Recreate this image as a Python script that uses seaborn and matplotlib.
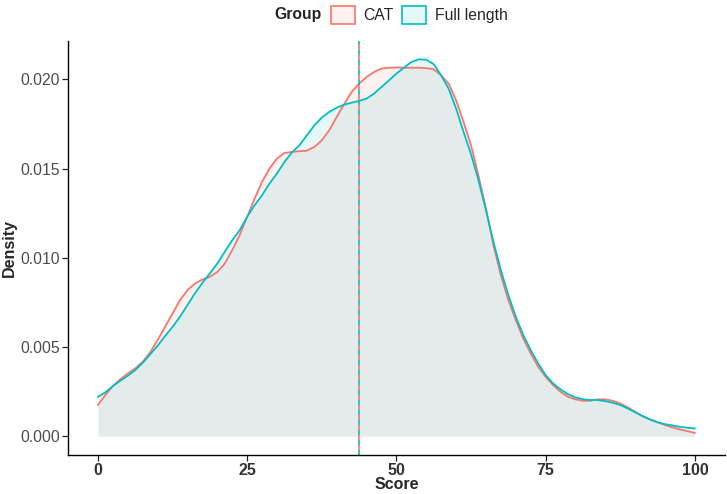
import pandas as pd
import seaborn as sns
import matplotlib.pyplot as plt
from matplotlib.patches import Patch
from matplotlib.colors import to_rgba
from matplotlib import font_manager

# density values, every 1.25 score points
score = [i * 1.25 for i in range(81)]
cat_density = [
    0.00174, 0.0023, 0.0028, 0.00318, 0.00351, 0.00379, 0.00416, 0.00469,
    0.00538, 0.00612, 0.00687, 0.00762, 0.00818, 0.00855, 0.00878, 0.00893,
    0.0092, 0.00967, 0.01042, 0.01126, 0.01229, 0.01331, 0.01425, 0.015,
    0.01556, 0.01587, 0.01593, 0.01597, 0.0160, 0.01621, 0.01658, 0.01714,
    0.01789, 0.0186, 0.01929, 0.01976, 0.02013, 0.02041, 0.0206, 0.02065,
    0.02067, 0.02065, 0.02065, 0.02065, 0.02063, 0.02056, 0.02022, 0.01976,
    0.01882, 0.01761, 0.0163, 0.0146, 0.01276, 0.0107, 0.00902, 0.00762,
    0.0065, 0.00547, 0.00463, 0.00388, 0.00332, 0.00286, 0.00248, 0.0022,
    0.00206, 0.00198, 0.00198, 0.00206, 0.00206, 0.00198, 0.00183, 0.00161,
    0.00136, 0.00112, 0.00093, 0.00077, 0.00062, 0.00049, 0.00037, 0.00028,
    0.00018]
full_density = [
    0.0022, 0.00245, 0.0028, 0.0031, 0.00338, 0.0037, 0.0041, 0.00458,
    0.00506, 0.0056, 0.00612, 0.00669, 0.00734, 0.008, 0.00859, 0.00912,
    0.00967, 0.01033, 0.01098, 0.01154, 0.01229, 0.01294, 0.0135, 0.01416,
    0.01472, 0.01537, 0.0159, 0.0163, 0.01686, 0.01742, 0.01785, 0.01817,
    0.01841, 0.01858, 0.01869, 0.01879, 0.01892, 0.0192, 0.01957, 0.01994,
    0.02032, 0.02065, 0.02097, 0.02112, 0.0211, 0.02085, 0.02022, 0.01948,
    0.01836, 0.01705, 0.0158, 0.01434, 0.01266, 0.01089, 0.0093, 0.0079,
    0.00669, 0.00566, 0.00482, 0.00407, 0.00342, 0.00295, 0.00262, 0.00235,
    0.00217, 0.00207, 0.00202, 0.00202, 0.00196, 0.00187, 0.00174, 0.00155,
    0.00133, 0.00112, 0.00093, 0.00078, 0.00067, 0.0006, 0.00052, 0.00047,
    0.00043]
groups = ["CAT", "Full length"]
group_means = [43.8, 43.8]
colors = ["#F8766D", "#00BFC4"]

df = pd.DataFrame({
    "Score": score * 2,
    "Density": cat_density + full_density,
    "Group": [groups[0]] * len(score) + [groups[1]] * len(score),
})

sns.set_style("ticks")
names = {f.name for f in font_manager.fontManager.ttflist}
narrow = "Liberation Sans Narrow" if "Liberation Sans Narrow" in names else "Liberation Sans"
plt.rcParams["font.family"] = ["Liberation Sans", "DejaVu Sans"]

fig = plt.figure(figsize=(7.27, 4.94), dpi=100)
ax = fig.add_axes([0.0935, 0.079, 0.9035, 0.839])

# shaded densities
for g, c in zip(groups, colors):
    sub = df[df["Group"] == g]
    ax.fill_between(sub["Score"], 0, sub["Density"], color=c, alpha=0.1, lw=0)

sns.lineplot(data=df, x="Score", y="Density", hue="Group", palette=colors,
             legend=False, lw=1.3, ax=ax)

# group means
ax.axvline(group_means[0], color=colors[0], lw=1.2, ls=(3, (3, 3)))
ax.axvline(group_means[1], color=colors[1], lw=1.2, ls=(0, (3, 3)))

ymax = max(max(cat_density), max(full_density))
ax.set_xlim(-5, 105)
ax.set_ylim(-0.05 * ymax, 1.05 * ymax)
ax.set_xticks([0, 25, 50, 75, 100])
ax.set_yticks([0, 0.005, 0.010, 0.015, 0.020])
ax.set_yticklabels(["0.000", "0.005", "0.010", "0.015", "0.020"],
                   fontsize=11.3, color="#4D4D4D")
ax.set_xticklabels(["0", "25", "50", "75", "100"], fontsize=11.5,
                   fontweight="bold", family=narrow, color="#333333")
ax.tick_params(length=4, width=0.9, color="#222222", pad=2)
ax.set_xlabel("Score", fontsize=11.5, fontweight="bold", family=narrow, labelpad=-1)
ax.set_ylabel("Density", fontsize=11.5, fontweight="bold", family=narrow, labelpad=2)
for s in ["left", "bottom"]:
    ax.spines[s].set_linewidth(1.0)
    ax.spines[s].set_color("black")
sns.despine(ax=ax)

# legend with the title on the left, as in ggplot
fig.text(0.378, 0.97, "Group", fontsize=11.3, fontweight="bold", va="center")
handles = [Patch(facecolor=to_rgba(c, 0.1), edgecolor=c, lw=1.2) for c in colors]
fig.legend(handles, groups, loc="center left", bbox_to_anchor=(0.455, 0.97),
           ncol=2, frameon=False, fontsize=11.3, handlelength=1.55,
           handleheight=1.45, handletextpad=0.55, columnspacing=0.5,
           borderpad=0, borderaxespad=0)

fig.savefig("out.png", dpi=100)
